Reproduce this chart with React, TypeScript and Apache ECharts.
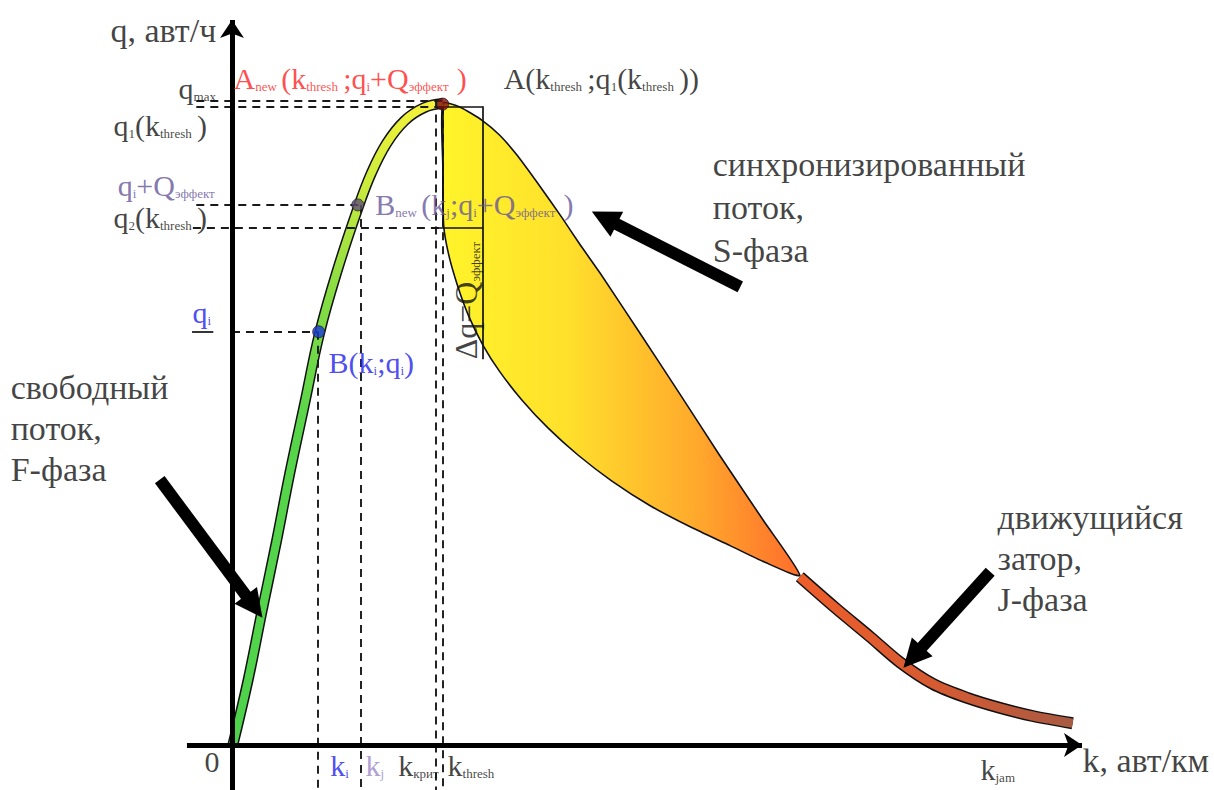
import React, { useEffect, useRef } from "react";
import * as echarts from "echarts";

const FONT = "'Liberation Serif', 'Times New Roman', Times, serif";
const BLACK = "#111111";
const RED = "#ff1f1f";
const PURPLE = "#65559a";
const LIGHT_PURPLE = "#9a86c6";
const BLUE = "#2020ee";

// Characteristic values (schematic units: k in авт/км, q in авт/ч)
const kI = 10.1;
const kJ = 15.2;
const kKrit = 24.0;
const kThresh = 24.8;
const qMax = 88.9;
const q1Thresh = 88.1;
const qIPlusQ = 74.5;
const q2Thresh = 71.4;
const qI = 57.0;
const deltaBoxK = 29.5;
const deltaBoxBottom = 53.2;

// F-phase (free flow) curve
const freeFlowK = [0.1, 1.9, 3.5, 5.2, 6.8, 8.6, 10.3, 12.4, 14.8, 16.4, 18.2, 20.3, 22.6, 24.8];
const freeFlowQ = [0, 9.0, 18.3, 27.9, 37.5, 47.4, 56.8, 65.5, 74.0, 78.9, 83.0, 86.1, 87.9, 88.5];

// S-phase (synchronized flow) region: upper and lower boundaries
const syncUpperK = [24.8, 26.8, 29.5, 31.5, 33.5, 36.2, 38.9, 40.9, 43.3, 48.0, 52.7, 57.4, 62.5, 66.8];
const syncUpperQ = [88.5, 88.0, 86.1, 84.1, 81.4, 77.1, 72.6, 69.1, 65.1, 56.8, 48.4, 39.9, 31.0, 23.4];
const syncLowerK = [62.7, 58.6, 53.9, 49.2, 44.7, 40.7, 37.2, 34.1, 31.5, 29.5, 27.8, 26.5, 25.5, 24.9, 24.8];
const syncLowerQ = [25.2, 27.5, 30.1, 33.0, 36.4, 40.0, 43.7, 47.6, 51.5, 55.2, 59.3, 63.5, 67.6, 71.7, 80.0];

// J-phase (wide moving jam) curve
const jamK = [66.8, 70.9, 75.1, 78.6, 82.5, 86.5, 90.4, 94.2, 98.9];
const jamQ = [23.2, 19.0, 14.9, 11.4, 8.4, 6.5, 5.1, 4.0, 3.0];

// Axes (drawn as arrows)
const kAxis = [[-5.3, 0], [100.0, 0]];
const qAxis = [[0, -6.3], [0, 100.0]];

// Pointer arrows (tail -> head)
const arrowF = [[-8.5, 36.6], [2.6, 19.1]];
const arrowS = [[59.8, 63.2], [43.8, 72.7]];
const arrowJ = [[89.2, 23.9], [80.1, 12.1]];

// Marked points
const pointA = [kThresh, 88.4];
const pointBnew = [kJ - 0.4, qIPlusQ];
const pointB = [kI + 0.1, qI];

const guideLeft = -4.2;
const guideBottom = -6.3;

const hGuides = [
  { q: qMax, from: guideLeft, to: kThresh },
  { q: q1Thresh, from: guideLeft, to: kThresh },
  { q: qIPlusQ, from: guideLeft, to: kJ },
  { q: q2Thresh, from: guideLeft - 0.4, to: kThresh },
  { q: qI, from: 0, to: kI },
];
const vGuides = [
  { k: kI, from: qI },
  { k: kJ, from: qIPlusQ },
  { k: kKrit, from: qMax },
  { k: kThresh, from: q1Thresh },
];

const boxSegments = [
  [[kThresh, q1Thresh], [deltaBoxK, q1Thresh]],
  [[deltaBoxK, q1Thresh], [deltaBoxK, deltaBoxBottom]],
  [[kThresh - 1.2, q2Thresh], [deltaBoxK, q2Thresh]],
  [[kThresh, q1Thresh], [kThresh, q2Thresh]],
  [[-4.7, qI], [-2.2, qI]],
];

type Ann = { text: string; k: number; q: number; color: string; size: number; lh?: number; rotate?: number };

const annotations: Ann[] = [
  { text: "q, авт/ч", k: -14.35, q: 98.6, color: BLACK, size: 34 },
  { text: "q{mx|max}", k: -6.35, q: 90.6, color: BLACK, size: 30 },
  { text: "A{nw|new}(k{th|thresh};q{s|i}+Q{ef|эффект})", k: 0.12, q: 92.0, color: RED, size: 30 },
  { text: "A(k{th|thresh};q{s|1}(k{th|thresh}))", k: 31.9, q: 92.0, color: BLACK, size: 30 },
  { text: "q{s|1}(k{th|thresh})", k: -14.0, q: 85.5, color: BLACK, size: 30 },
  { text: "q{s|i}+Q{ef|эффект}", k: -13.5, q: 77.2, color: PURPLE, size: 30 },
  { text: "q{s|2}(k{th|thresh})", k: -14.0, q: 72.7, color: BLACK, size: 30 },
  { text: "B{nw|new}(k{s|j};q{s|i}+Q{ef|эффект})", k: 16.8, q: 74.5, color: PURPLE, size: 30 },
  { text: "q{s|i}", k: -4.7, q: 59.6, color: BLUE, size: 30 },
  { text: "B(k{s|i};q{s|i})", k: 11.3, q: 52.8, color: BLUE, size: 30 },
  { text: "синхронизированный\nпоток,\nS-фаза", k: 56.5, q: 74.1, color: BLACK, size: 34, lh: 43 },
  { text: "свободный\nпоток,\nF-фаза", k: -26.1, q: 43.6, color: BLACK, size: 34, lh: 41 },
  { text: "движущийся\nзатор,\nJ-фаза", k: 90.0, q: 25.7, color: BLACK, size: 34, lh: 41 },
  { text: "0", k: -3.3, q: -2.3, color: BLACK, size: 30 },
  { text: "k{s|i}", k: 11.5, q: -2.8, color: BLUE, size: 30 },
  { text: "k{s|j}", k: 15.65, q: -2.8, color: LIGHT_PURPLE, size: 30 },
  { text: "k{kr|крит}", k: 19.5, q: -2.8, color: BLACK, size: 30 },
  { text: "k{th|thresh}", k: 25.3, q: -2.8, color: BLACK, size: 30 },
  { text: "k{jm|jam}", k: 88.0, q: -3.4, color: BLACK, size: 30 },
  { text: "k, авт/км", k: 100.0, q: -2.1, color: BLACK, size: 34 },
  { text: "Δq=Q{ef2|эффект}", k: 27.5, q: 53.2, color: BLACK, size: 32, rotate: 90 },
];

function richFor(color: string) {
  const sub = (width?: number) => {
    const s: any = {
      fontFamily: FONT,
      fontSize: 13,
      color,
      verticalAlign: "bottom",
      padding: [0, 0, 3, 0],
    };
    if (width) s.width = width;
    return s;
  };
  return {
    s: sub(),
    th: sub(37),
    ef: sub(48),
    ef2: sub(46),
    nw: sub(26),
    mx: sub(27),
    kr: sub(27),
    jm: sub(30),
  };
}

const pairs = (ks: number[], qs: number[]) => ks.map((k, i) => [k, qs[i]]);

function buildOption(): any {
  const region = [...pairs(syncUpperK, syncUpperQ), ...pairs(syncLowerK, syncLowerQ)];
  const linesBase = {
    type: "lines",
    coordinateSystem: "cartesian2d",
    silent: true,
    polyline: false,
    effect: { show: false },
  };
  return {
    animation: false,
    grid: { left: 0, right: 0, top: 0, bottom: 0, containLabel: false, outerBoundsMode: "none" },
    xAxis: { type: "value", min: -27.294, max: 115.53, show: false },
    yAxis: { type: "value", min: -6.207, max: 102.76, show: false },
    series: [
      {
        type: "custom",
        silent: true,
        z: 2,
        data: [[0, 0]],
        renderItem: (_p: any, api: any) => {
          const pts = region.map((p) => api.coord(p));
          return {
            type: "polygon",
            shape: { points: pts, smooth: 0.2 },
            style: {
              fill: new echarts.graphic.LinearGradient(0, 0, 1, 0, [
                { offset: 0, color: "#fff42a" },
                { offset: 0.35, color: "#ffe02c" },
                { offset: 0.7, color: "#ffab2c" },
                { offset: 1, color: "#ff6e2c" },
              ]),
              stroke: "#111",
              lineWidth: 1.6,
            },
          };
        },
      },
      {
        type: "line",
        silent: true,
        z: 3,
        data: pairs(jamK, jamQ),
        smooth: 0.3,
        symbol: "none",
        lineStyle: { color: "#111", width: 12 },
      },
      {
        type: "line",
        silent: true,
        z: 3,
        data: pairs(jamK, jamQ),
        smooth: 0.3,
        symbol: "none",
        lineStyle: {
          width: 9,
          color: new echarts.graphic.LinearGradient(0, 0, 1, 0, [
            { offset: 0, color: "#ee5e2a" },
            { offset: 0.5, color: "#d65a32" },
            { offset: 1, color: "#a85a42" },
          ]),
        },
      },
      {
        type: "line",
        silent: true,
        z: 3,
        data: pairs(freeFlowK, freeFlowQ),
        smooth: 0.4,
        symbol: "none",
        lineStyle: { color: "#111", width: 11 },
      },
      {
        type: "line",
        silent: true,
        z: 3,
        data: pairs(freeFlowK, freeFlowQ),
        smooth: 0.4,
        symbol: "none",
        lineStyle: {
          width: 8,
          color: new echarts.graphic.LinearGradient(0, 0, 0, 1, [
            { offset: 0, color: "#f4f23a" },
            { offset: 0.12, color: "#cdec3c" },
            { offset: 0.3, color: "#86dc44" },
            { offset: 0.5, color: "#58d54a" },
            { offset: 1, color: "#4ed24b" },
          ]),
        },
      },
      {
        ...linesBase,
        z: 4,
        lineStyle: { color: "#1a1a1a", width: 1.9, type: [8, 6], opacity: 1, curveness: 0 },
        data: [
          ...hGuides.map((g) => ({ coords: [[g.from, g.q], [g.to, g.q]] })),
          ...vGuides.map((g) => ({ coords: [[g.k, g.from], [g.k, guideBottom]] })),
        ],
      },
      {
        ...linesBase,
        z: 4,
        lineStyle: { color: "#111", width: 1.7, type: "solid", opacity: 1, curveness: 0 },
        data: boxSegments.map((c) => ({ coords: c })),
      },
      {
        ...linesBase,
        z: 5,
        symbol: ["none", "arrow"],
        symbolSize: 18,
        lineStyle: { color: "#000", width: 5, opacity: 1, curveness: 0 },
        data: [{ coords: kAxis }, { coords: qAxis }],
      },
      {
        ...linesBase,
        z: 6,
        symbol: ["none", "triangle"],
        symbolSize: 28,
        lineStyle: { color: "#000", width: 12, opacity: 1, curveness: 0 },
        itemStyle: { color: "#000" },
        data: [{ coords: arrowF }, { coords: arrowS }, { coords: arrowJ }],
      },
      {
        type: "scatter",
        silent: true,
        z: 7,
        data: [
          { value: pointA, itemStyle: { color: "#7a0c0c" } },
          { value: pointBnew, itemStyle: { color: "#5e4f72" } },
          { value: pointB, itemStyle: { color: "#1838d8" } },
        ],
        symbolSize: 12,
        itemStyle: { borderColor: "#222", borderWidth: 1 },
      },
      {
        type: "scatter",
        silent: true,
        z: 10,
        symbolSize: 1,
        itemStyle: { color: "rgba(0,0,0,0)" },
        label: {
          show: true,
          position: "right",
          distance: 0,
          fontFamily: FONT,
          align: "left",
          verticalAlign: "middle",
        },
        data: annotations.map((a) => ({
          value: [a.k, a.q],
          label: {
            formatter: () => a.text,
            color: a.color,
            fontSize: a.size,
            fontFamily: FONT,
            lineHeight: a.lh ?? Math.round(a.size * 1.15),
            rotate: a.rotate ?? 0,
            rich: richFor(a.color),
          },
        })),
      },
    ],
  };
}

export default function App() {
  const ref = useRef<HTMLDivElement>(null);
  useEffect(() => {
    document.body.style.margin = "0";
    const chart = echarts.init(ref.current!, null, { renderer: "svg" });
    chart.setOption(buildOption());
    return () => chart.dispose();
  }, []);
  return <div ref={ref} style={{ width: 1214, height: 790, background: "#fff" }} />;
}
